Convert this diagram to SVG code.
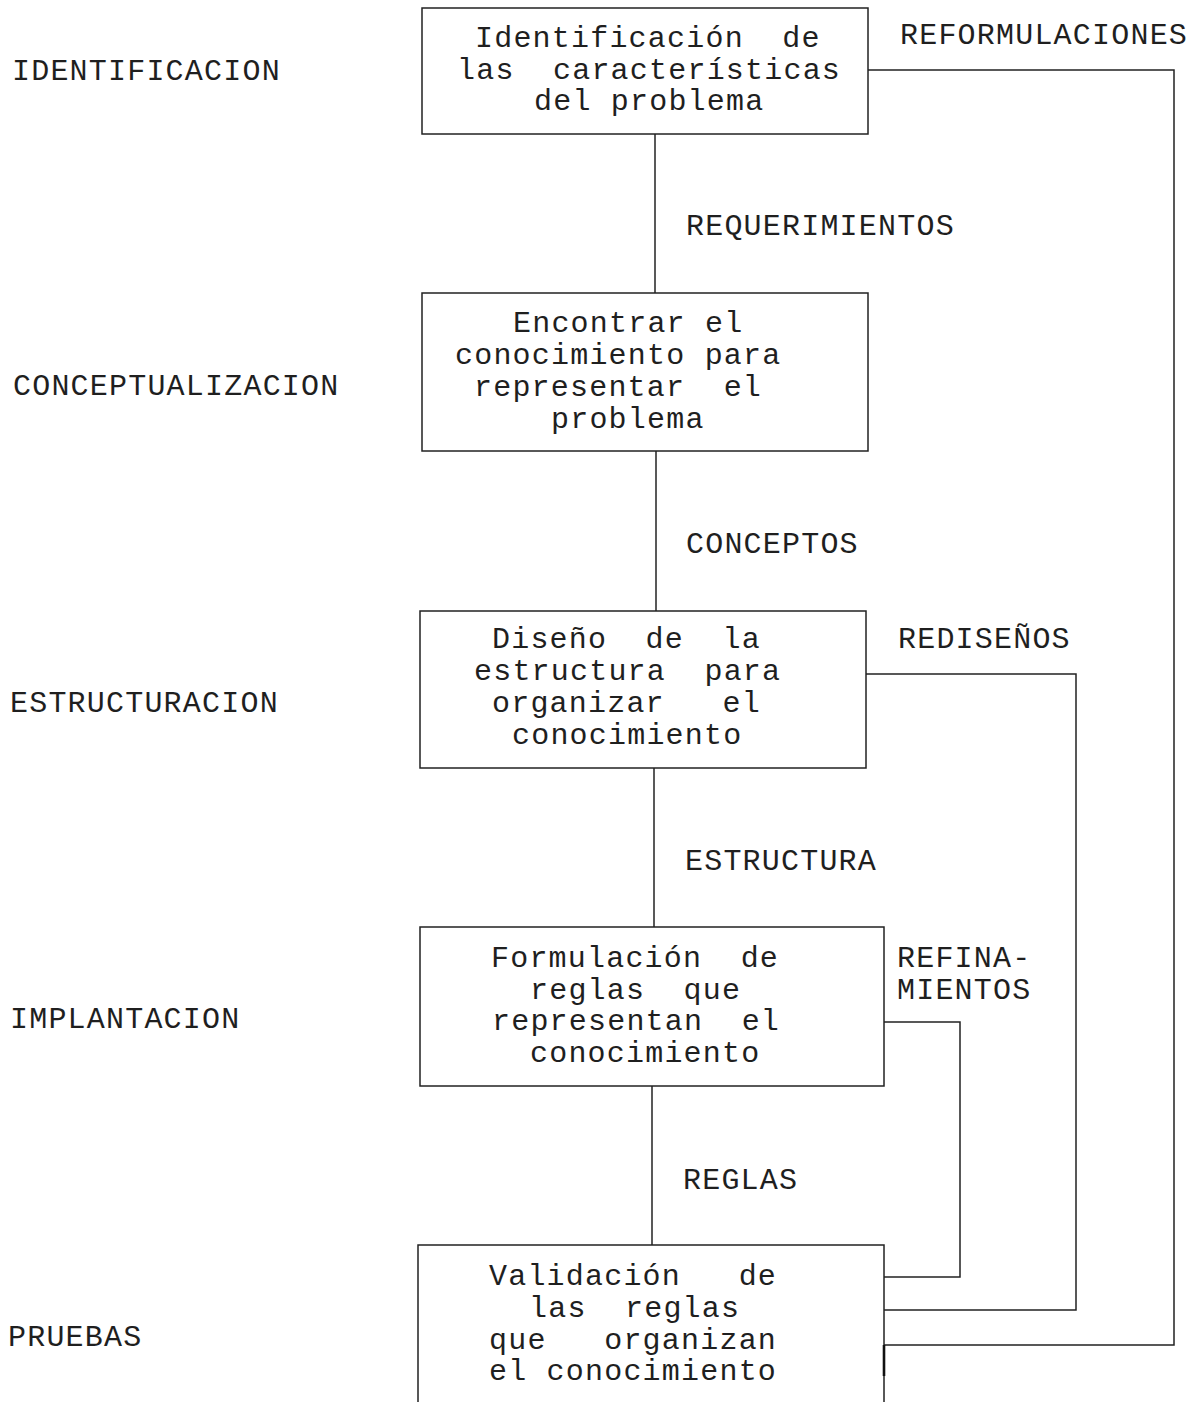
<svg xmlns="http://www.w3.org/2000/svg" width="1202" height="1402" viewBox="0 0 1202 1402">
  <style>
    text { font-family: "Liberation Mono", "Courier New", monospace; font-size: 30px; letter-spacing: 1.2px; fill: #1f1f1f; white-space: pre; }
    .box { fill: #ffffff; stroke: #222222; stroke-width: 1.5; }
    .wire { fill: none; stroke: #222222; stroke-width: 1.5; }
  </style>
  <rect width="1202" height="1402" fill="#ffffff"/>

  <!-- stage names, left column -->
  <g id="stages">
    <text x="12" y="80">IDENTIFICACION</text>
    <text x="13" y="395">CONCEPTUALIZACION</text>
    <text x="10" y="712">ESTRUCTURACION</text>
    <text x="10" y="1028">IMPLANTACION</text>
    <text x="8" y="1346">PRUEBAS</text>
  </g>

  <!-- connectors between stages and feedback loops -->
  <g id="connectors">
    <line class="wire" x1="655" y1="134" x2="655" y2="293"/>
    <line class="wire" x1="656" y1="451" x2="656" y2="611"/>
    <line class="wire" x1="654" y1="768" x2="654" y2="927"/>
    <line class="wire" x1="652" y1="1086" x2="652" y2="1245"/>
    <polyline class="wire" points="868,70 1174,70 1174,1345 884,1345"/>
    <polyline class="wire" points="866,674 1076,674 1076,1310 884,1310"/>
    <polyline class="wire" points="884,1022 960,1022 960,1277 884,1277"/>
    <text x="686" y="235">REQUERIMIENTOS</text>
    <text x="686" y="553">CONCEPTOS</text>
    <text x="685" y="870">ESTRUCTURA</text>
    <text x="683" y="1189">REGLAS</text>
    <text x="900" y="44">REFORMULACIONES</text>
    <text x="898" y="648">REDISEÑOS</text>
    <text x="897" y="967">REFINA-</text>
    <text x="897" y="999">MIENTOS</text>
  </g>

  <g id="node-identificacion">
    <rect class="box" x="422" y="8" width="446" height="126"/>
    <text x="475" y="47">Identificación  de</text>
    <text x="457" y="79">las  características</text>
    <text x="534" y="110">del problema</text>
  </g>

  <g id="node-conceptualizacion">
    <rect class="box" x="422" y="293" width="446" height="158"/>
    <text x="513" y="332">Encontrar el</text>
    <text x="455" y="364">conocimiento para</text>
    <text x="474" y="396">representar  el</text>
    <text x="551" y="428">problema</text>
  </g>

  <g id="node-estructuracion">
    <rect class="box" x="420" y="611" width="446" height="157"/>
    <text x="492" y="648">Diseño  de  la</text>
    <text x="474" y="680">estructura  para</text>
    <text x="492" y="712">organizar   el</text>
    <text x="512" y="744">conocimiento</text>
  </g>

  <g id="node-implantacion">
    <rect class="box" x="420" y="927" width="464" height="159"/>
    <text x="491" y="967">Formulación  de</text>
    <text x="530" y="999">reglas  que</text>
    <text x="492" y="1030">representan  el</text>
    <text x="530" y="1062">conocimiento</text>
  </g>

  <g id="node-pruebas">
    <rect class="box" x="418" y="1245" width="466" height="165"/>
    <!-- heavier stretch of the right edge below the outer loop -->
    <line x1="884" y1="1345" x2="884" y2="1376" stroke="#111111" stroke-width="2.6"/>
    <text x="489" y="1285">Validación   de</text>
    <text x="529" y="1317">las  reglas</text>
    <text x="489" y="1349">que   organizan</text>
    <text x="489" y="1380">el conocimiento</text>
  </g>
</svg>
